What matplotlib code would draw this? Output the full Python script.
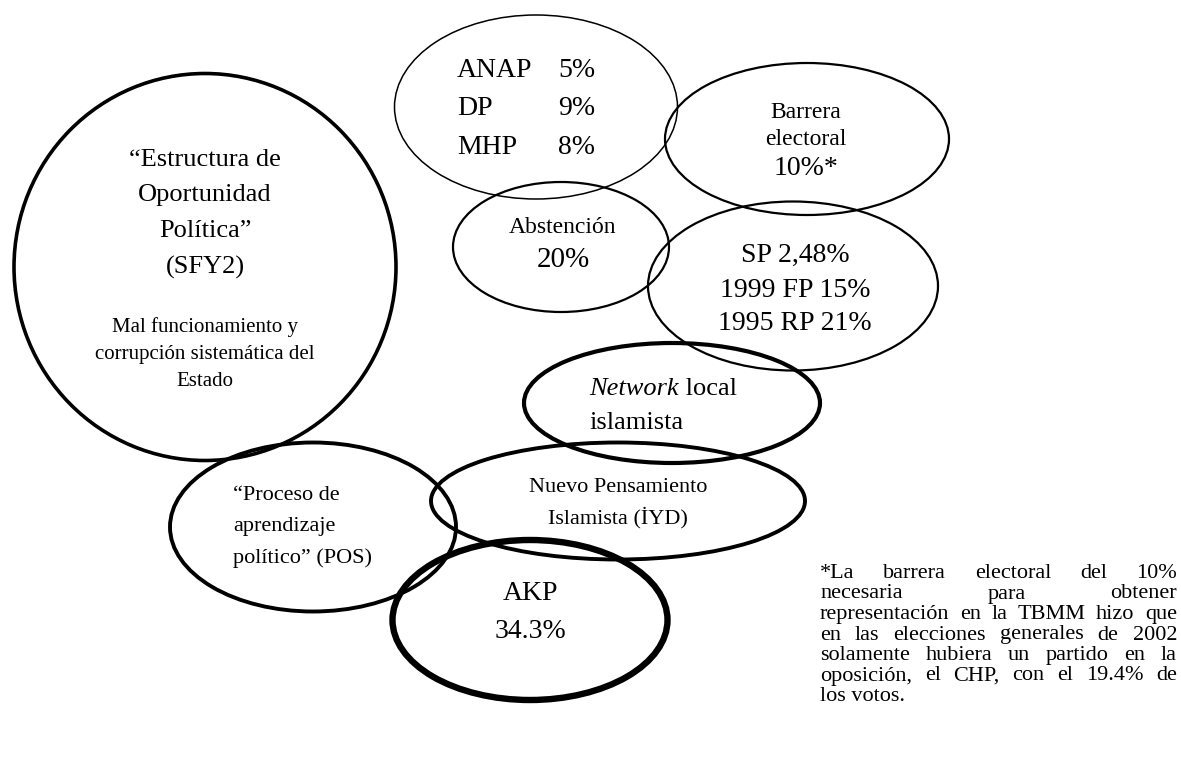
import matplotlib
matplotlib.use('Agg')
import matplotlib.pyplot as plt
from matplotlib.patches import Ellipse

# ellipses: centre x, centre y, width, height, line width (pixel space, y down)
ell_names = ['estructura', 'anap', 'barrera', 'abstencion', 'sp',
             'network', 'nuevo', 'proceso', 'akp']
ell_cx = [205, 536, 807, 561, 793, 672, 618, 313, 530]
ell_cy = [267, 107, 139, 247, 286, 403, 501, 527, 620]
ell_w = [382, 283, 284, 216, 290, 296, 374, 286, 275]
ell_h = [387, 184, 152, 130, 169, 120, 117, 169, 160]
ell_lw = [2.6, 1.1, 1.6, 1.6, 1.6, 3.0, 2.8, 2.8, 4.6]

# centred labels: x, y, text, size
lab_x = [205, 205, 205, 205, 205, 205, 205,
         806, 806, 806, 563, 563,
         795, 795, 795, 618, 618, 530, 530]
lab_y = [160, 195, 231, 267, 327, 354, 381,
         112, 139, 168, 227, 260,
         255, 290, 323, 487, 518, 594, 632]
lab_txt = ['\u201cEstructura de', 'Oportunidad', 'Pol\u00edtica\u201d', '(SFY2)',
           'Mal funcionamiento y', 'corrupci\u00f3n sistem\u00e1tica del', 'Estado',
           'Barrera', 'electoral', '10%*', 'Abstenci\u00f3n', '20%',
           'SP 2,48%', '1999 FP 15%', '1995 RP 21%',
           'Nuevo Pensamiento', 'Islamista (\u0130YD)', 'AKP', '34.3%']
lab_size = [19, 19, 19, 19, 15, 15, 15,
            17, 17, 20, 17, 21,
            20, 20, 20, 16, 16, 20, 20]

# ANAP / DP / MHP table
parties = ['ANAP', 'DP', 'MHP']
votes = ['5%', '9%', '8%']
party_y = [70, 108, 147]

proceso_lines = ['\u201cProceso de', 'aprendizaje', 'pol\u00edtico\u201d (POS)']
proceso_y = [495, 527, 558]

note_lines = ['*La barrera electoral del 10%',
              'necesaria para obtener',
              'representaci\u00f3n en la TBMM hizo que',
              'en las elecciones generales de 2002',
              'solamente hubiera un partido en la',
              'oposici\u00f3n, el CHP, con el 19.4% de',
              'los votos.']

serif = 'Liberation Serif'
W, H = 1181, 765
fig = plt.figure(figsize=(W / 100, H / 100), dpi=100)
ax = fig.add_axes([0, 0, 1, 1])
ax.set_xlim(0, W)
ax.set_ylim(H, 0)
ax.axis('off')

for cx, cy, w, h, lw in zip(ell_cx, ell_cy, ell_w, ell_h, ell_lw):
    ax.add_patch(Ellipse((cx, cy), w, h, fill=False, ec='black', lw=lw))

for x, y, t, s in zip(lab_x, lab_y, lab_txt, lab_size):
    ax.text(x, y, t, ha='center', va='center', fontsize=s, family=serif)

for p, v, y in zip(parties, votes, party_y):
    ax.text(457, y, p, ha='left', va='center', fontsize=20, family=serif)
    ax.text(558, y, v, ha='left', va='center', fontsize=20, family=serif)

for t, y in zip(proceso_lines, proceso_y):
    ax.text(233, y, t, ha='left', va='center', fontsize=16, family=serif)

rend = fig.canvas.get_renderer()


def width_px(t):
    bb = t.get_window_extent(renderer=rend)
    return bb.width


# "Network local" with italic first word
t1 = ax.text(589, 395, 'Network', ha='left', va='baseline', fontsize=19,
             family=serif, style='italic')
ax.text(589 + width_px(t1), 395, ' local', ha='left', va='baseline',
        fontsize=19, family=serif)
ax.text(589, 423, 'islamista', ha='left', va='center', fontsize=19, family=serif)

# justified footnote, words on a common baseline
left, right = 820, 1177
note_size = 16
for i, line in enumerate(note_lines):
    y = 578 + i * 20.5
    words = line.split(' ')
    if i == len(note_lines) - 1:
        ax.text(left, y, line, ha='left', va='baseline', fontsize=note_size,
                family=serif)
        continue
    objs = [ax.text(0, y, wd, ha='left', va='baseline', fontsize=note_size,
                    family=serif) for wd in words]
    widths = [width_px(o) for o in objs]
    gap = (right - left - sum(widths)) / (len(words) - 1)
    x = left
    for o, wdt in zip(objs, widths):
        o.set_x(x)
        x += wdt + gap

fig.savefig('out.png', dpi=100)
